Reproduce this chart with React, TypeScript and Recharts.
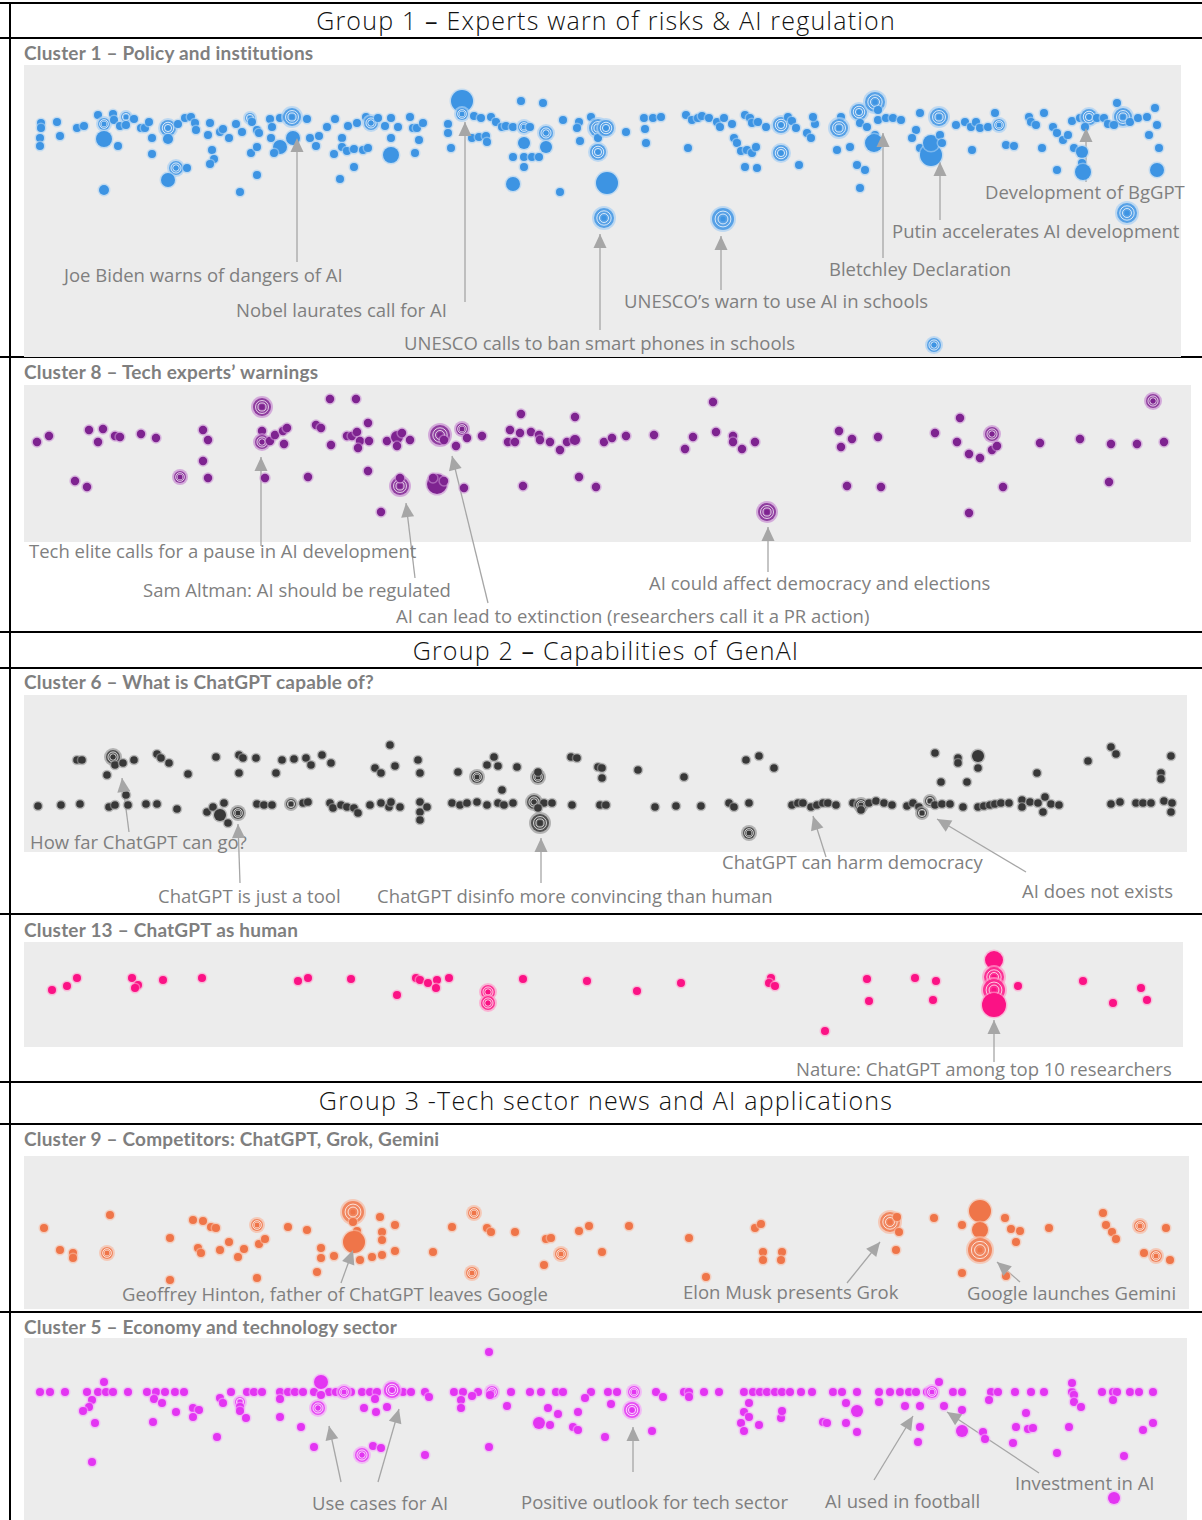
import { ScatterChart, Scatter, XAxis, YAxis, ReferenceArea, ReferenceLine } from "recharts"

// [time position, swarm offset, bubble radius?, rings?]
type Pt = [number, number, number?, number?]
type Note = { text: string; x: number; y: number; arrows: [number, number, number, number][] }

const WIDTH = 1202

// Cluster 1 – Policy and institutions
const policyDots: Pt[] = [
  [41,123],[41,128],[40,138],[40,146],[57,122],[60,136],[77,128],[84,126],[98,115],[104,124,6,1],[104,139,8],[113,114],[114,120],
  [120,126],[126,117,5,1],[126,125],[134,119],[141,128],[145,128],[149,122],[152,138],[118,146],[152,154],[168,128,8,1],[168,139,5],
  [176,168,7,1],[168,180,7],[178,124],[185,118],[191,117],[195,123],[196,130],[187,168],[210,123],[208,135],[212,150],[214,159],
  [210,164],[220,132],[223,129],[229,138],[236,124],[242,132],[250,118,5,1],[252,122],[257,130],[259,133],[270,119],[272,127],
  [271,138],[280,118],[292,117,9,1],[293,138,7],[307,119],[280,147,7],[274,153],[251,153],[257,147],[310,138],[319,136],[316,146],
  [257,175],[240,192],[104,190,5],[327,127],[335,119],[342,138],[348,126],[357,123],[366,117],[371,123,7,1],[378,118],[385,126],
  [391,118],[391,138],[398,127],[410,117],[413,128],[417,128],[423,123],[419,140],[415,153],[391,155,8],[342,147],[347,151],
  [354,149],[363,150],[368,148],[334,154],[354,167],[340,179],[448,124],[448,133],[451,148],[462,101,11],[462,114,6,1],[474,116],
  [481,118],[491,117],[496,122],[472,138],[479,137],[486,136],[487,142],[502,127],[506,126],[513,127],[521,101],[543,103],
  [524,127,6,1],[530,127],[524,143,6],[513,157],[524,157],[532,157],[539,157],[524,167],[546,133,7,1],[546,147,6],[563,120],
  [513,184,7],[560,192],[579,122],[577,128],[580,141],[591,117],[598,128,9,1],[598,138],[598,152,8,1],[607,183,11],
  [606,128,8,1],[626,132],[644,118],[645,129],[653,118],[661,117],[646,143],[686,115],[692,120],[698,118],[702,116],[709,118],
  [717,122],[720,127],[724,118],[732,124],[745,115],[750,118],[752,123],[758,122],[766,127],[734,138],[737,143],[741,151],
  [747,150],[752,153],[756,147],[745,167],[757,168],[688,148],[781,125,8,1],[781,153,8,1],[788,117],[792,121],[796,128],[799,165],
  [807,133],[811,138],[815,124],[813,117],[841,117],[839,128,9,1],[837,150],[850,147],[857,165],[865,170],[860,188],[859,112,8,1],
  [875,102,10,1],[878,110],[878,120],[875,135],[874,143,9],[886,118],[893,118],[901,120],[860,123],[867,127],[920,113],[916,130],
  [912,138],[920,148],[931,155,11],[931,143,8],[939,117,9,1],[940,135],[942,143],[956,125],[965,122],[971,127],[976,122],
  [972,150],[980,128],[988,127],[995,113],[999,125,6,1],[1006,145],[1014,146],[1029,117],[1031,122],[1036,125],[1044,113],
  [1042,148],[1053,127],[1057,133],[1063,140],[1068,135],[1072,121],[1080,118],[1089,117,8,1],[1085,127],[1074,148],[1082,152,6],
  [1082,163],[1083,172,8],[1057,170],[1097,118],[1104,118],[1108,124],[1117,103],[1123,117,9,1],[1114,125],[1130,122],[1138,118],
  [1147,117],[1155,108],[1157,125],[1149,135],[1159,148],[1157,170,7],
  [1127,213,10,1],[934,345,7,1],[604,218,10,1],[723,219,11,1],
]
const policyNotes: Note[] = [
  { text: "Joe Biden warns of dangers of AI", x: 64, y: 275, arrows: [[297, 262, 297, 138]] },
  { text: "Nobel laurates call for AI", x: 236, y: 310, arrows: [[465, 302, 465, 122]] },
  { text: "UNESCO calls to ban smart phones in schools", x: 404, y: 343, arrows: [[600, 330, 600, 234]] },
  { text: "UNESCO’s warn to use AI in schools", x: 624, y: 301, arrows: [[721, 290, 721, 236]] },
  { text: "Bletchley  Declaration", x: 829, y: 269, arrows: [[883, 258, 883, 133]] },
  { text: "Putin accelerates AI development", x: 892, y: 231, arrows: [[940, 220, 940, 162]] },
  { text: "Development of BgGPT", x: 985, y: 192, arrows: [[1086, 182, 1086, 128]] },
]

// Cluster 8 – Tech experts' warnings
const warningDots: Pt[] = [
  [37,442],[49,436],[89,430],[98,442],[103,429],[115,436],[120,437],[141,434],[156,438],[203,430],[208,440],[203,461],[208,478],
  [180,477,6,1],[75,481],[87,487],[262,407,9,1],[262,431],[262,442,7,1],[270,441],[275,435],[283,431],[287,428],[284,444],[265,478],
  [308,477],[330,399],[356,399],[316,425],[321,428],[331,445],[347,436],[352,436],[357,432],[360,441],[368,423],[369,441],[358,448],
  [368,471],[387,441],[397,437,6],[402,433],[410,440],[397,446],[400,486,9,1],[400,478],[381,512],[437,484,10],[444,481],[433,478],
  [464,488],[440,435,10,1],[444,440],[462,429,6,1],[467,438],[456,446],[482,436],[508,442],[510,430],[515,442],[521,414],[520,433],
  [531,432],[539,435],[550,442],[540,440],[560,450],[567,442],[575,417],[575,440,5],[579,477],[596,487],[523,486],
  [604,442],[612,438],[626,436],[654,435],[685,449],[693,437],[713,402],[716,432],[733,436],[733,442],[742,449],[755,442],
  [767,512,9,1],[839,431],[852,439],[841,447],[878,437],[847,486],[881,487],[935,433],[960,418],[957,442],[969,454],[980,458],
  [992,434,7,1],[992,450],[997,446],[969,513],[1003,487],[1040,443],[1080,439],[1111,444],[1137,444],[1164,442],[1109,482],
  [1153,401,7,1],
]
const warningNotes: Note[] = [
  { text: "Tech elite calls for a pause in AI development", x: 29, y: 551, arrows: [[261, 546, 261, 457]] },
  { text: "Sam Altman: AI should be regulated", x: 143, y: 590, arrows: [[415, 578, 406, 503]] },
  { text: "AI can lead to extinction (researchers call it a PR action)", x: 396, y: 616, arrows: [[488, 603, 452, 456]] },
  { text: "AI could affect democracy and elections", x: 649, y: 583, arrows: [[768, 572, 768, 527]] },
]

// Cluster 6 – What is ChatGPT capable of?
const capableDots: Pt[] = [
  [38,806],[61,805],[80,804],[77,760],[82,760],[113,757,7,1],[115,765],[123,763],[107,775],[134,760],[157,754],[161,758],[169,763],
  [188,774],[126,795],[109,807],[115,805],[128,805],[146,804],[157,804],[177,809],[207,812],[213,807],[220,815,6],[228,823],
  [224,803],[238,813,6,1],[216,757],[239,755],[243,758],[256,758],[239,773],[276,773],[282,760],[294,759],[306,758],[311,765],
  [322,755],[331,763],[257,804],[264,805],[272,805],[291,804,5,1],[303,803],[308,802],[330,803],[333,808],[341,805],[347,807],
  [354,808],[358,813],[370,805],[381,803],[389,807],[400,807],[391,802],[420,802],[420,812],[420,820],[427,807],[375,768],[381,773],
  [390,745],[395,766],[418,760],[420,773],[452,803],[460,805],[467,803],[477,802],[487,805],[498,803],[504,805],[513,803],[502,790],
  [458,772],[477,777,6,1],[487,765],[494,757],[498,766],[517,767],[538,777,6,1],[538,772],[534,802,7,1],[544,803],[538,808],
  [552,803],[540,823,9,1],[571,757],[577,758],[572,805],[598,767],[600,805],
  [602,768],[602,778],[606,805],[638,770],[655,807],[676,806],[684,777],[701,806],[729,803],[734,807],[746,760],[759,756],[749,803],
  [774,768],[749,833,6,1],[792,805],[798,803],[803,803],[811,807],[817,805],[823,803],[828,803],[836,805],[853,803],[861,805,6,1],
  [861,810],[869,803],[876,801],[884,803],[892,805],[907,806],[913,803],[919,807],[922,813,5,1],[930,801,5,1],[935,805],[942,804],
  [950,804],[963,807],[978,807],[984,806],[990,805],[995,804],[1001,803],[1009,803],[1022,800],[1022,807],[1030,802],[1038,803],
  [1045,797],[1043,812],[1051,804],[1059,805],[935,753],[941,782],[958,758],[958,763],[967,782],[978,756,6],[978,768],[1037,773],
  [1088,761],[1111,747],[1116,754],[1111,804],[1120,802],[1136,803],[1143,803],[1151,803],[1164,801],[1172,803],[1171,812],
  [1161,773],[1161,779],[1171,756],
]
const capableNotes: Note[] = [
  { text: "How far ChatGPT can go?", x: 30, y: 842, arrows: [[129, 832, 122, 778]] },
  { text: "ChatGPT is just a tool", x: 158, y: 896, arrows: [[240, 883, 238, 824]] },
  { text: "ChatGPT disinfo more convincing than human", x: 377, y: 896, arrows: [[541, 883, 541, 838]] },
  { text: "ChatGPT can harm democracy", x: 722, y: 862, arrows: [[826, 857, 813, 816]] },
  { text: "AI does not exists", x: 1022, y: 891, arrows: [[1026, 872, 937, 819]] },
]

// Cluster 13 – ChatGPT as human
const humanDots: Pt[] = [
  [52,990],[67,986],[77,978],[132,978],[138,985],[135,988],[163,980],[202,978],[298,981],[308,978],[351,979],[397,995],[416,978],
  [420,980],[428,983],[437,980],[449,978],[436,988],[488,992,7,1],[488,1003,7,1],[523,979],[587,981],[637,991],[681,983],[771,978],
  [769,983],[775,986],[825,1031],[867,979],[869,1001],[915,978],[936,981],[933,1000],[994,960,9],[994,977,10,1],[994,990,11,1],
  [994,1005,12],[1018,986],[1083,981],[1113,1003],[1141,988],[1147,1000],
]
const humanNotes: Note[] = [
  { text: "Nature: ChatGPT among top 10 researchers", x: 796, y: 1069, arrows: [[994, 1062, 994, 1020]] },
]

// Cluster 9 – Competitors: ChatGPT, Grok, Gemini
const rivalDots: Pt[] = [
  [44,1228],[60,1250],[73,1253],[73,1258],[110,1215],[107,1253,6,1],[170,1238],[170,1280],[193,1220],[203,1221],[211,1227],
  [216,1228],[198,1248],[201,1253],[220,1250],[229,1242],[238,1257],[244,1249],[257,1225,6,1],[259,1244],[265,1239],[257,1278],
  [288,1227],[307,1230],[321,1248],[321,1258],[317,1272],[334,1256],[353,1212,11,1],[353,1222],[357,1231],[354,1242,11],[380,1217],
  [395,1225],[382,1232],[382,1240],[360,1260],[372,1257],[382,1255],[395,1251],[433,1252],[474,1213,6,1],[487,1228],[491,1232],
  [452,1227],[515,1232],[546,1239],[551,1238],[544,1265],[561,1254,6,1],[579,1231],[589,1226],[602,1252],[629,1226],[472,1273,6,1],
  [689,1238],[706,1277],[755,1228],[761,1224],[763,1252],[763,1260],[782,1252],[781,1260],[890,1222,10,1],[897,1217],[899,1232],
  [896,1250],[934,1218],[962,1225],[962,1273],[980,1211,11],[980,1230,8],[980,1250,12,1],[1005,1218],[1011,1229],[1020,1231],
  [1016,1242],[1006,1276],[1049,1228],[1103,1213],[1106,1225],[1112,1232],[1116,1239],[1140,1226,6,1],[1166,1228],[1144,1253],
  [1156,1256,6,1],[1170,1260],
]
const rivalNotes: Note[] = [
  { text: "Geoffrey Hinton, father of ChatGPT leaves Google", x: 122, y: 1294, arrows: [[341, 1283, 353, 1250]] },
  { text: "Elon Musk presents Grok", x: 683, y: 1292, arrows: [[847, 1283, 880, 1242]] },
  { text: "Google launches Gemini", x: 967, y: 1293, arrows: [[1020, 1282, 997, 1262]] },
]

// Cluster 5 – Economy and technology sector
const economyRow = [
  40,50,65,87,98,106,113,128,147,156,165,175,184,231,247,254,262,280,288,295,303,314,329,336,351,362,370,377,388,396,403,411,
  425,454,463,478,511,530,541,556,563,591,608,617,656,684,689,704,719,744,753,760,767,775,782,790,801,812,833,842,857,879,
  890,900,909,916,927,953,962,991,998,1015,1031,1044,1072,1102,1113,1117,1130,1139,1153,
]
const economyDots: Pt[] = [
  ...economyRow.map((t): Pt => [t, 1392]),
  [321,1382,7],[344,1392,6,1],[392,1390,8,1],[492,1392,6,1],[634,1392,6,1],[932,1392,6,1],[939,1382],
  [489,1352],[104,1382],[92,1400],[89,1407],[83,1411],[95,1423],[92,1462],[154,1399],[162,1403],[153,1422],[176,1412],[193,1408],
  [199,1410],[193,1417],[220,1398],[223,1403],[217,1437],[240,1402,5,1],[240,1407],[240,1411],[246,1418],[280,1399],[280,1417],
  [301,1427],[314,1447],[321,1395],[318,1408,7,1],[362,1455,7,1],[373,1446],[381,1448],[364,1408],[376,1412],[387,1407],[425,1455],
  [375,1399],[429,1397],[461,1400],[461,1408],[472,1396],[490,1395],[489,1447],[507,1406],[539,1423,6],[550,1425],[548,1408],
  [558,1414],[573,1427],[578,1412],[578,1430],[585,1398],[605,1437],[611,1404],[632,1410,8,1],[663,1397],[652,1431],[689,1397],
  [749,1403],[744,1412],[749,1417],[741,1423],[759,1425],[744,1431],[781,1418],[782,1411],[823,1422],[827,1423],[846,1403],
  [857,1411,6],[846,1423],[857,1432],[879,1402],[905,1406],[920,1406],[920,1427],[918,1442],[944,1406],[962,1410],[962,1431,6],
  [983,1432],[985,1439],[989,1400],[1013,1443],[1026,1413],[1016,1427],[1028,1429],[1033,1428],[1057,1453],[1072,1383],[1074,1395],
  [1074,1402],[1081,1407],[1069,1427],[1113,1400],[1124,1456],[1143,1430],[1153,1423],[1114,1498,6],
]
const economyNotes: Note[] = [
  { text: "Use cases for AI", x: 312, y: 1503, arrows: [[341, 1482, 329, 1426], [378, 1482, 399, 1409]] },
  { text: "Positive outlook for tech sector", x: 521, y: 1502, arrows: [[633, 1472, 633, 1427]] },
  { text: "AI used in football", x: 825, y: 1501, arrows: [[874, 1480, 913, 1416]] },
  { text: "Investment in AI", x: 1015, y: 1483, arrows: [[1039, 1473, 947, 1412]] },
]

const FONT = "'Open Sans', 'DejaVu Sans', sans-serif"
const NOTE_COLOR = "#7f7f7f"
const ARROW_COLOR = "#a6a6a6"

function dotShape(fill: string, halo: string) {
  return (props: any) => {
    const { cx, cy, payload } = props
    const r = payload.r
    if (!payload.rings) {
      return (
        <g>
          <circle cx={cx} cy={cy} r={r + 1.5} fill={halo} opacity={0.6} />
          <circle cx={cx} cy={cy} r={r} fill={fill} />
        </g>
      )
    }
    return (
      <g>
        <circle cx={cx} cy={cy} r={r + 2} fill={halo} opacity={0.7} />
        <circle cx={cx} cy={cy} r={r} fill={fill} opacity={0.8} />
        <circle cx={cx} cy={cy} r={r * 0.72} fill="none" stroke="#fff" strokeOpacity={0.75} strokeWidth={1} />
        <circle cx={cx} cy={cy} r={r * 0.45} fill="none" stroke="#fff" strokeOpacity={0.75} strokeWidth={1} />
        <circle cx={cx} cy={cy} r={2.5} fill={fill} />
      </g>
    )
  }
}

function headShape(props: any) {
  const { cx, cy, payload } = props
  const dx = payload.x - payload.fx
  const dy = payload.y - payload.fy
  const len = Math.hypot(dx, dy) || 1
  const ux = dx / len
  const uy = dy / len
  const L = 14
  const W = 6.5
  const bx = cx - ux * L
  const by = cy - uy * L
  const pts = `${cx},${cy} ${bx - uy * W},${by + ux * W} ${bx + uy * W},${by - ux * W}`
  return <polygon points={pts} fill={ARROW_COLOR} />
}

function labelShape(props: any) {
  const { cx, cy, payload } = props
  return (
    <text x={cx} y={cy + 6.5} fontFamily={FONT} fontSize={18.5} fill={NOTE_COLOR}>
      {payload.text}
    </text>
  )
}

type PanelProps = {
  top: number
  bottom: number
  bg: [number, number, number, number]
  dots: Pt[]
  notes: Note[]
  fill: string
  halo: string
  baseR: number
}

function Panel({ top, bottom, bg, dots, notes, fill, halo, baseR }: PanelProps) {
  const h = bottom - top
  const data = dots.map(([x, y, r, rings]) => ({ x, y, r: r ?? baseR, rings: rings ?? 0 }))
  const labels = notes.map((n) => ({ x: n.x, y: n.y, text: n.text }))
  const arrows = notes.flatMap((n) => n.arrows)
  const heads = arrows.map(([fx, fy, x, y]) => ({ x, y, fx, fy }))
  return (
    <div style={{ position: "absolute", left: 0, top, width: WIDTH, height: h }}>
      <ScatterChart width={WIDTH} height={h} margin={{ top: 0, right: 0, bottom: 0, left: 0 }}>
        <XAxis type="number" dataKey="x" domain={[0, WIDTH]} allowDataOverflow hide />
        <YAxis type="number" dataKey="y" domain={[top, bottom]} allowDataOverflow reversed hide />
        <ReferenceArea x1={bg[0]} x2={bg[1]} y1={bg[2]} y2={bg[3]} fill="#ececec" fillOpacity={1} stroke="none" />
        {arrows.map(([x1, y1, x2, y2], i) => (
          <ReferenceLine
            key={i}
            segment={[{ x: x1, y: y1 }, { x: x2, y: y2 }]}
            stroke={ARROW_COLOR}
            strokeWidth={1.3}
          />
        ))}
        <Scatter data={data} shape={dotShape(fill, halo)} isAnimationActive={false} />
        <Scatter data={labels} shape={labelShape} isAnimationActive={false} />
        <Scatter data={heads} shape={headShape} isAnimationActive={false} />
      </ScatterChart>
    </div>
  )
}

const hLines = [3, 38, 357, 632, 668, 914, 1082, 1124, 1312]

const groupTitles = [
  { y: 20, label: <>Group 1 <b>–</b> Experts warn of risks &amp; AI regulation</> },
  { y: 650, label: <>Group 2 <b>–</b> Capabilities of GenAI</> },
  { y: 1100, label: <>Group 3 -Tech sector news and AI applications</> },
]

const clusterTitles = [
  { y: 53, text: "Cluster 1 – Policy and institutions" },
  { y: 372, text: "Cluster 8 – Tech experts’ warnings" },
  { y: 682, text: "Cluster 6 – What is ChatGPT capable of?" },
  { y: 930, text: "Cluster 13 – ChatGPT as human" },
  { y: 1139, text: "Cluster 9 – Competitors: ChatGPT, Grok, Gemini" },
  { y: 1327, text: "Cluster 5 – Economy and technology sector" },
]

export default function App() {
  return (
    <div style={{ position: "absolute", left: 0, top: 0, width: WIDTH, height: 1520, background: "#fff", overflow: "hidden" }}>
      {hLines.map((y) => (
        <div key={y} style={{ position: "absolute", left: 0, top: y - 1, width: WIDTH, height: 2, background: "#000" }} />
      ))}
      <div style={{ position: "absolute", left: 9, top: 3, width: 2, height: 1517, background: "#000" }} />
      {groupTitles.map((g) => (
        <div
          key={g.y}
          style={{
            position: "absolute", left: 10, width: 1192, top: g.y - 17, height: 34, lineHeight: "34px",
            textAlign: "center", fontFamily: FONT, fontWeight: 300, fontSize: 25, letterSpacing: 1.2, color: "#111",
            whiteSpace: "nowrap",
          }}
        >
          {g.label}
        </div>
      ))}
      {clusterTitles.map((c) => (
        <div
          key={c.y}
          style={{
            position: "absolute", left: 24, top: c.y - 12, height: 24, lineHeight: "24px",
            fontFamily: "Lato, 'Open Sans', sans-serif", fontWeight: 700, fontSize: 19, letterSpacing: 0.2, color: "#7f7f7f",
            whiteSpace: "nowrap",
          }}
        >
          {c.text}
        </div>
      ))}
      <Panel top={62} bottom={357} bg={[24, 1181, 65, 357]} dots={policyDots} notes={policyNotes} fill="#3d94e3" halo="#a9d0f4" baseR={4} />
      <Panel top={380} bottom={631} bg={[24, 1191, 385, 542]} dots={warningDots} notes={warningNotes} fill="#7e2390" halo="#c98fd3" baseR={4.2} />
      <Panel top={690} bottom={913} bg={[24, 1187, 695, 852]} dots={capableDots} notes={capableNotes} fill="#383838" halo="#9a9a9a" baseR={3.8} />
      <Panel top={938} bottom={1081} bg={[24, 1183, 942, 1047]} dots={humanDots} notes={humanNotes} fill="#fb1285" halo="#ff9ccb" baseR={4} />
      <Panel top={1150} bottom={1311} bg={[24, 1189, 1156, 1309]} dots={rivalDots} notes={rivalNotes} fill="#ef7549" halo="#f8bba2" baseR={4} />
      <Panel top={1335} bottom={1520} bg={[24, 1187, 1338, 1520]} dots={economyDots} notes={economyNotes} fill="#e335f2" halo="#f3a6fa" baseR={4} />
    </div>
  )
}
